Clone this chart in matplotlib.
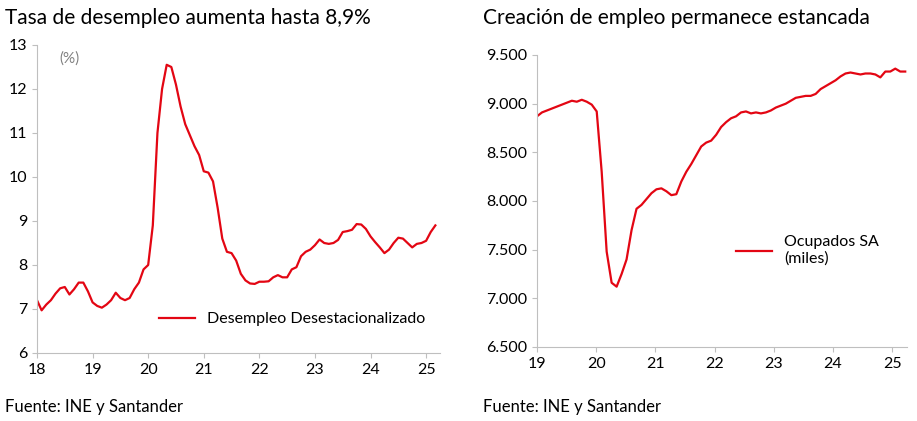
import matplotlib
matplotlib.use("Agg")
import matplotlib.pyplot as plt
import numpy as np

plt.rcParams['font.family'] = ['Lato', 'DejaVu Sans']

unemp = [7.2, 6.97, 7.1, 7.2, 7.35, 7.47, 7.5, 7.33, 7.45, 7.6, 7.6,
         7.4, 7.15, 7.07, 7.03, 7.1, 7.2, 7.37, 7.25, 7.2, 7.25, 7.45,
         7.6, 7.9, 8.0, 8.9, 11.0, 12.0, 12.55, 12.5, 12.1, 11.6, 11.2, 10.95,
         10.7, 10.5, 10.13, 10.1, 9.9, 9.3, 8.6, 8.3, 8.27, 8.1, 7.8, 7.65,
         7.58, 7.57, 7.62, 7.62, 7.63, 7.72, 7.77, 7.72, 7.72, 7.9, 7.95, 8.2,
         8.3, 8.35, 8.45, 8.58, 8.5, 8.48, 8.5, 8.57, 8.75, 8.77, 8.8, 8.93,
         8.92, 8.82, 8.65, 8.52, 8.4, 8.27, 8.35, 8.5, 8.62, 8.6, 8.5, 8.4,
         8.48, 8.5, 8.55, 8.75, 8.9]
emp = [8870, 8910, 8930, 8950, 8970, 8990, 9010, 9030, 9020, 9040,
       9020, 8990, 8920, 8300, 7480, 7160, 7120, 7250, 7400, 7700, 7920, 7960,
       8020, 8080, 8120, 8130, 8100, 8060, 8070, 8200, 8300, 8380, 8470, 8560,
       8600, 8620, 8680, 8760, 8810, 8850, 8870, 8910, 8920, 8900, 8910, 8900,
       8910, 8930, 8960, 8980, 9000, 9030, 9060, 9070, 9080, 9080, 9100, 9150,
       9180, 9210, 9240, 9280, 9310, 9320, 9310, 9300, 9310, 9310, 9300, 9270,
       9330, 9330, 9360, 9330, 9330]
x_left = 18 + np.arange(len(unemp)) / 12
x_right = 19 + np.arange(len(emp)) / 12 * (6.22 / ((len(emp) - 1) / 12))
red = '#e30613'

fig = plt.figure(figsize=(9.17, 4.21), dpi=100)
W, H = 917, 421
ax1 = fig.add_axes([37/W, 1-353/H, (440-37)/W, (353-45)/H])
ax2 = fig.add_axes([537/W, 1-347/H, (907-537)/W, (347-55)/H])

for ax in (ax1, ax2):
    for s in ['top', 'right']:
        ax.spines[s].set_visible(False)
    for s in ['left', 'bottom']:
        ax.spines[s].set_color('#bfbfbf')
    ax.tick_params(colors='#bfbfbf', labelcolor='black', labelsize=11.5)

ax1.plot(x_left, unemp, color=red, lw=1.6, label='Desempleo Desestacionalizado')
ax1.set_xlim(18, 25.25)
ax1.set_ylim(6, 13)
ax1.set_xticks(range(18, 26))
ax1.set_yticks(range(6, 14))
ax1.text(18.4, 12.6, '(%)', color='#808080', fontsize=11)
ax1.legend(loc='lower right', bbox_to_anchor=(1.0, 0.04), frameon=False, fontsize=11.5,
           handlelength=2.2)

ax2.plot(x_right, emp, color=red, lw=1.6, label='Ocupados SA\n(miles)')
ax2.set_xlim(19, 25.25)
ax2.set_ylim(6500, 9500)
ax2.set_xticks(range(19, 26))
ax2.set_yticks(range(6500, 9501, 500))
ax2.set_yticklabels([f'{v:,}'.replace(',', '.') for v in range(6500, 9501, 500)])
ax2.legend(loc='center left', bbox_to_anchor=(0.5, 0.33), frameon=False, fontsize=11.5,
           handlelength=2.2)

fig.text(5/W, 1-18/H, 'Tasa de desempleo aumenta hasta 8,9%', fontsize=15, va='center')
fig.text(483/W, 1-18/H, 'Creación de empleo permanece estancada', fontsize=15, va='center')
fig.text(5/W, 1-407/H, 'Fuente: INE y Santander', fontsize=12, va='center')
fig.text(483/W, 1-407/H, 'Fuente: INE y Santander', fontsize=12, va='center')

fig.savefig('out.png', dpi=100)
